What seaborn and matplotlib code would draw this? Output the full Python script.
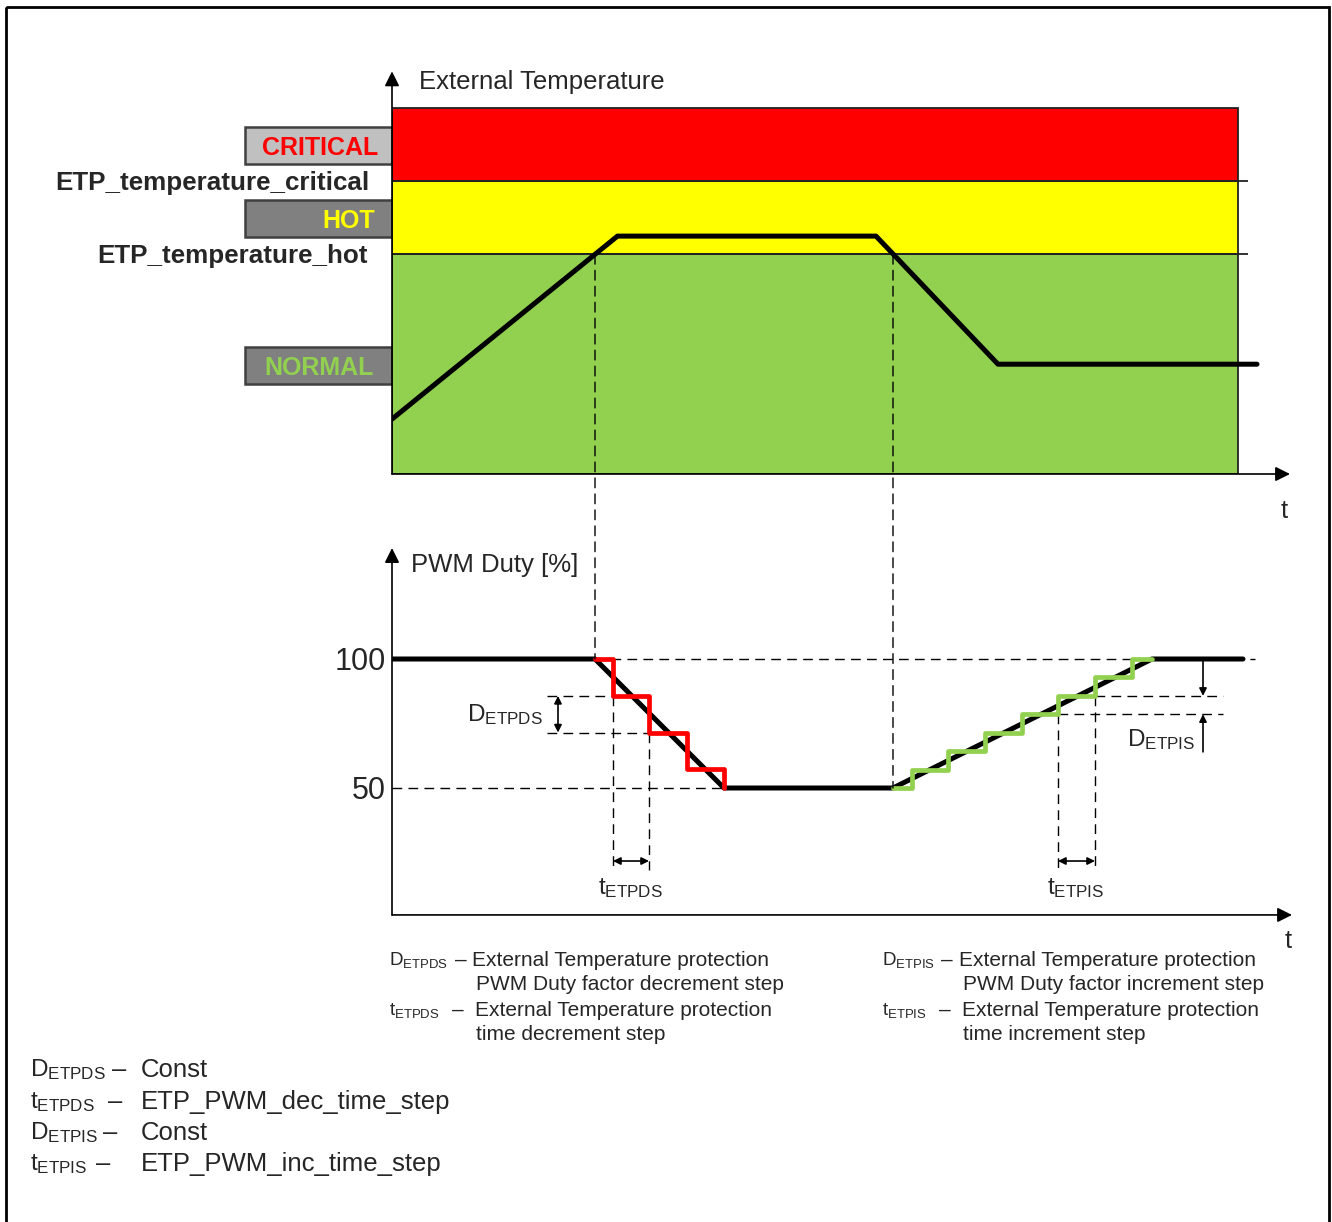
import numpy as np
import pandas as pd
import seaborn as sns
import matplotlib.pyplot as plt
from matplotlib.patches import Rectangle, ConnectionPatch

# -------------------------
# data
# -------------------------
zone_names = ["NORMAL", "HOT", "CRITICAL"]
zone_bounds = [0, 60, 80, 100]
zone_colors = ["#92D050", "#FFFF00", "#FF0000"]
zone_end = 84.6

temp_t = [0, 22.55, 48.4, 60.6, 86.5]
temp_v = [15, 65, 65, 30, 30]
hot_cross = [20.3, 50.1]

pwm_t = [0, 20.3, 33.2, 50.1, 76, 85.1]
pwm_v = [100, 100, 50, 50, 100, 100]

dec_edges = [22.1, 25.7, 29.5, 33.2]
dec_levels = [100, 85.7, 71.5, 57.5, 50]

inc_edges = [52, 55.6, 59.3, 63, 66.6, 70.3, 74]
inc_levels = [50, 57.1, 64.3, 71.4, 78.6, 85.7, 92.9, 100]
inc_end = 76

pwm_ticks = [100, 50]

W, H = 1332, 1222

sns.set_theme(style="white")
plt.rcParams["font.family"] = ["Liberation Sans", "DejaVu Sans"]
plt.rcParams["mathtext.fontset"] = "custom"
plt.rcParams["mathtext.rm"] = "Liberation Sans"
plt.rcParams["mathtext.it"] = "Liberation Sans:italic"
plt.rcParams["mathtext.bf"] = "Liberation Sans:bold"

DASH = (0, (7, 4.5))


def staircase(t0, edges, levels, t_end=None):
    xs, ys = [t0], [levels[0]]
    for i, e in enumerate(edges):
        xs += [e, e]
        ys += [levels[i], levels[i + 1]]
    if t_end is not None:
        xs.append(t_end)
        ys.append(levels[-1])
    return xs, ys


def frac(left, top, right, bottom):
    return [left / W, (H - bottom) / H, (right - left) / W, (bottom - top) / H]


fig = plt.figure(figsize=(W / 100, H / 100), dpi=100)

# background axes in pixel coordinates for frame and notes
bg = fig.add_axes([0, 0, 1, 1])
bg.set_xlim(0, W)
bg.set_ylim(H, 0)
bg.axis("off")
bg.add_patch(Rectangle((6, 7), 1322.5, 1240, fill=False, lw=2, ec="black"))

# -------------------------
# top panel: temperature
# -------------------------
ax1 = fig.add_axes(frac(392, 474 - 366 * 1.1, 1292, 474))
ax1.set_xlim(0, 90)
ax1.set_ylim(0, 110)
ax1.axis("off")

for lo, hi, c in zip(zone_bounds[:-1], zone_bounds[1:], zone_colors):
    ax1.barh(lo, zone_end, height=hi - lo, left=0, align="edge",
             color=c, edgecolor="#222222", lw=1.3, zorder=1)
ax1.hlines(zone_bounds[1:3], 0, zone_end + 1, color="#222222", lw=1.3, zorder=2)

sns.lineplot(x=temp_t, y=temp_v, ax=ax1, color="black", lw=3.6,
             sort=False, estimator=None, zorder=4)

ax1.annotate("", xy=(0, 110), xytext=(0, 0), annotation_clip=False,
             arrowprops=dict(arrowstyle="-|>", color="black", lw=1.2,
                             mutation_scale=22, shrinkA=0, shrinkB=0))
ax1.annotate("", xy=(89.8, 0), xytext=(0, 0), annotation_clip=False,
             arrowprops=dict(arrowstyle="-|>", color="black", lw=1.2,
                             mutation_scale=22, shrinkA=0, shrinkB=0))
ax1.text(2.7, 107.2, "External Temperature", fontsize=18.5, va="center",
         clip_on=False)
ax1.text(89.2, -10.2, "t", fontsize=18.5, ha="center", va="center", clip_on=False)

ax1.text(-2.2, 79.5, "ETP_temperature_critical", fontsize=18.7, fontweight="bold",
         ha="right", va="center", clip_on=False)
ax1.text(-2.4, 59.5, "ETP_temperature_hot", fontsize=18.7, fontweight="bold",
         ha="right", va="center", clip_on=False)

# state label boxes
boxes = [("CRITICAL", 127, "#C0C0C0", "#FF0000", 378),
         ("HOT", 200, "#808080", "#FFFF00", 375),
         ("NORMAL", 347, "#808080", "#92D050", 374)]
for name, top, fc, tc, xr in boxes:
    bg.add_patch(Rectangle((245, top), 147, 36.5, fc=fc, ec="#404040", lw=1.8))
    bg.text(xr, top + 21, name, color=tc, fontsize=18, fontweight="bold",
            ha="right", va="center")

# -------------------------
# bottom panel: PWM duty
# -------------------------
ax2 = fig.add_axes(frac(392, 917 - 258 * 1.43, 1292, 917))
ax2.set_xlim(0, 90)
ax2.set_ylim(0, 143)
ax2.axis("off")

ax2.annotate("", xy=(0, 143), xytext=(0, 0.8), annotation_clip=False,
             arrowprops=dict(arrowstyle="-|>", color="black", lw=1.2,
                             mutation_scale=22, shrinkA=0, shrinkB=0))
ax2.annotate("", xy=(90, 0.8), xytext=(0, 0.8), annotation_clip=False,
             arrowprops=dict(arrowstyle="-|>", color="black", lw=1.2,
                             mutation_scale=22, shrinkA=0, shrinkB=0))
ax2.text(1.9, 136.5, "PWM Duty [%]", fontsize=18.5, va="center", clip_on=False)
ax2.text(89.6, -9.3, "t", fontsize=18.5, ha="center", va="center", clip_on=False)
for v in pwm_ticks:
    ax2.text(-0.6, v - 1.2, str(v), fontsize=22, ha="right", va="center",
             clip_on=False)

# dashed guides
dkw = dict(color="black", lw=1.0, linestyle=DASH, clip_on=False)
ax2.plot([hot_cross[0], 86.3], [100, 100], **dkw)
ax2.plot([0, dec_edges[-1]], [50, 50], **dkw)
ax2.plot([15.5, dec_edges[0]], [dec_levels[1]] * 2, **dkw)
ax2.plot([15.5, dec_edges[1]], [dec_levels[2]] * 2, **dkw)
ax2.plot([dec_edges[0]] * 2, [dec_levels[1], 18.2], **dkw)
ax2.plot([dec_edges[1]] * 2, [dec_levels[2], 18.2], **dkw)
ax2.plot([inc_edges[4], 83.1], [inc_levels[4]] * 2, **dkw)
ax2.plot([inc_edges[5], 83.1], [inc_levels[5]] * 2, **dkw)
ax2.plot([inc_edges[4]] * 2, [inc_levels[4], 18.2], **dkw)
ax2.plot([inc_edges[5]] * 2, [inc_levels[5], 18.2], **dkw)

for t, v in zip(hot_cross, [100, 50]):
    con = ConnectionPatch(xyA=(t, 60), coordsA=ax1.transData,
                          xyB=(t, v), coordsB=ax2.transData,
                          color="black", lw=1.0, linestyle=DASH, zorder=3)
    fig.add_artist(con)

sns.lineplot(x=pwm_t, y=pwm_v, ax=ax2, color="black", lw=3.6,
             sort=False, estimator=None, zorder=4)
dx, dy = staircase(pwm_t[1], dec_edges, dec_levels)
sns.lineplot(x=dx, y=dy, ax=ax2, color="#FF0000", lw=3.4,
             sort=False, estimator=None, zorder=5)
ix, iy = staircase(pwm_t[3], inc_edges, inc_levels, inc_end)
sns.lineplot(x=ix, y=iy, ax=ax2, color="#92D050", lw=3.4,
             sort=False, estimator=None, zorder=5)

# dimension arrows
akw = dict(arrowstyle="<|-|>", color="black", lw=1.2, mutation_scale=11,
           shrinkA=0, shrinkB=0)
ax2.annotate("", xy=(16.6, dec_levels[1]), xytext=(16.6, dec_levels[2]),
             arrowprops=akw)
ax2.annotate("", xy=(dec_edges[0], 21.7), xytext=(dec_edges[1], 21.7),
             arrowprops=akw)
ax2.annotate("", xy=(inc_edges[4], 21.7), xytext=(inc_edges[5], 21.7),
             arrowprops=akw)
okw = dict(arrowstyle="-|>", color="black", lw=1.2, mutation_scale=11,
           shrinkA=0, shrinkB=0)
ax2.annotate("", xy=(81.1, inc_levels[5]), xytext=(81.1, 100), arrowprops=okw)
ax2.annotate("", xy=(81.1, inc_levels[4]), xytext=(81.1, 64), arrowprops=okw)

ax2.text(15.1, 78.5, r"$\mathrm{D_{ETPDS}}$", fontsize=17.5, ha="right", va="center")
ax2.text(23.8, 11.2, r"$\mathrm{t_{ETPDS}}$", fontsize=17.5, ha="center", va="center")
ax2.text(68.4, 11.2, r"$\mathrm{t_{ETPIS}}$", fontsize=17.5, ha="center", va="center")
ax2.text(73.5, 68.9, r"$\mathrm{D_{ETPIS}}$", fontsize=17.5, ha="left", va="center")

# -------------------------
# notes under the chart
# -------------------------
notes = [
    (389, 455, 472, 960, r"$\mathrm{D_{ETPDS}}$", "External Temperature protection"),
    (389, 455, 476, 985, "", "PWM Duty factor decrement step"),
    (389, 452, 475, 1010, r"$\mathrm{t_{ETPDS}}$", "External Temperature protection"),
    (389, 452, 476, 1034, "", "time decrement step"),
    (882, 941, 959, 960, r"$\mathrm{D_{ETPIS}}$", "External Temperature protection"),
    (882, 941, 963, 985, "", "PWM Duty factor increment step"),
    (882, 939, 962, 1010, r"$\mathrm{t_{ETPIS}}$", "External Temperature protection"),
    (882, 939, 963, 1034, "", "time increment step"),
]
for xs, xd, xt, y, sym, desc in notes:
    if sym:
        bg.text(xs, y, sym, fontsize=13.5, va="center")
        bg.text(xd, y, "–", fontsize=15, va="center")
    bg.text(xt, y, desc, fontsize=15, va="center")

legend = [
    (1070, 112, r"$\mathrm{D_{ETPDS}}$", "Const"),
    (1102, 108, r"$\mathrm{t_{ETPDS}}$", "ETP_PWM_dec_time_step"),
    (1133, 103, r"$\mathrm{D_{ETPIS}}$", "Const"),
    (1164, 96, r"$\mathrm{t_{ETPIS}}$", "ETP_PWM_inc_time_step"),
]
for y, xd, sym, val in legend:
    bg.text(30, y, sym, fontsize=17.5, va="center")
    bg.text(xd, y, "–", fontsize=18.5, va="center")
    bg.text(141, y, val, fontsize=18.5, va="center")

fig.savefig("out.png", dpi=100)
